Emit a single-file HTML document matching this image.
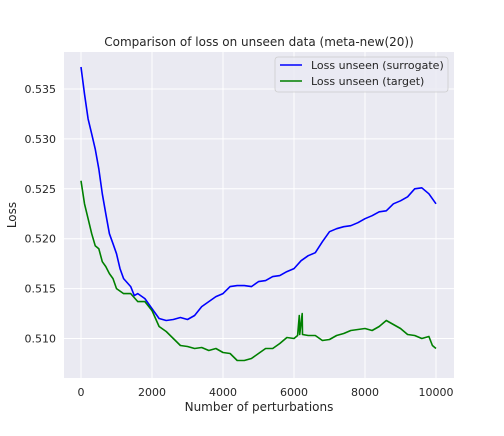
<!DOCTYPE html>
<html><head><meta charset="utf-8"><style>
body{margin:0;background:#fff;font-family:"DejaVu Sans","Liberation Sans",sans-serif;}
svg text{fill:#262626;}
</style></head><body>
<svg id="chart" width="504" height="432" xmlns="http://www.w3.org/2000/svg">
<rect x="64" y="52" width="390" height="326" fill="#eaeaf2"/>
<g id="grid"></g>
<g id="series"></g>
<g id="ticks"></g>
<text x="259" y="46" text-anchor="middle" font-size="12">Comparison of loss on unseen data (meta-new(20))</text>
<text x="259" y="411" text-anchor="middle" font-size="12">Number of perturbations</text>
<text x="16" y="215" text-anchor="middle" font-size="12" transform="rotate(-90 16 215)">Loss</text>
<g>
<rect x="275" y="57" width="173" height="35" rx="3" fill="#eaeaf2" fill-opacity="0.8" stroke="#cccccc" stroke-width="0.8"/>
<g><line x1="280" y1="65" x2="302" y2="65" stroke="#0000ff" stroke-width="1.5"/><text x="311" y="69" font-size="11">Loss unseen (surrogate)</text></g>
<g><line x1="280" y1="81" x2="302" y2="81" stroke="#008000" stroke-width="1.5"/><text x="311" y="85" font-size="11">Loss unseen (target)</text></g>
</g>
</svg>
<script>
const xTicks=[0,2000,4000,6000,8000,10000];
const yTicks=[0.510,0.515,0.520,0.525,0.530,0.535];
const surrogateX=[0,100,200,300,400,500,600,700,800,900,1000,1100,1200,1400,1500,1600,1800,2000,2200,2400,2600,2800,3000,3200,3400,3600,3800,4000,4200,4400,4600,4800,5000,5200,5400,5600,5800,6000,6200,6400,6600,6800,7000,7200,7400,7600,7800,8000,8200,8400,8600,8800,9000,9200,9400,9600,9800,10000];
const surrogateY=[0.5372,0.5345,0.532,0.5305,0.529,0.527,0.5245,0.5225,0.5205,0.5195,0.5185,0.517,0.516,0.5152,0.5143,0.5145,0.514,0.513,0.512,0.5118,0.5119,0.5121,0.5119,0.5123,0.5132,0.5137,0.5142,0.5145,0.5152,0.5153,0.5153,0.5152,0.5157,0.5158,0.5162,0.5163,0.5167,0.517,0.5178,0.5183,0.5186,0.5197,0.5207,0.521,0.5212,0.5213,0.5216,0.522,0.5223,0.5227,0.5228,0.5235,0.5238,0.5242,0.525,0.5251,0.5245,0.5235];
const targetX=[0,100,200,300,400,500,600,700,800,900,1000,1200,1400,1600,1800,2000,2200,2400,2600,2800,3000,3200,3400,3600,3800,4000,4200,4400,4600,4800,5000,5200,5400,5600,5800,6000,6100,6150,6160,6230,6240,6400,6600,6800,7000,7200,7400,7600,7800,8000,8200,8400,8600,8800,9000,9200,9400,9600,9800,9900,10000];
const targetY=[0.5258,0.5235,0.522,0.5205,0.5193,0.519,0.5177,0.5172,0.5165,0.516,0.515,0.5145,0.5145,0.5137,0.5137,0.5128,0.5112,0.5107,0.51,0.5093,0.5092,0.509,0.5091,0.5088,0.509,0.5086,0.5085,0.5078,0.5078,0.508,0.5085,0.509,0.509,0.5095,0.5101,0.51,0.5103,0.5123,0.5104,0.5125,0.5104,0.5103,0.5103,0.5098,0.5099,0.5103,0.5105,0.5108,0.5109,0.511,0.5108,0.5112,0.5118,0.5114,0.511,0.5104,0.5103,0.51,0.5102,0.5093,0.509];
const NS="http://www.w3.org/2000/svg";
function sx(v){return 81+v*(436-81)/10000;}
function sy(v){return 338.5-(v-0.510)*9980;}
const grid=document.getElementById('grid'),ticks=document.getElementById('ticks'),ser=document.getElementById('series');
xTicks.forEach(t=>{
 const l=document.createElementNS(NS,'line');
 l.setAttribute('x1',sx(t));l.setAttribute('x2',sx(t));l.setAttribute('y1',52);l.setAttribute('y2',378);
 l.setAttribute('stroke','#fff');l.setAttribute('stroke-width','1');
 
 
 grid.appendChild(l);
 const tx=document.createElementNS(NS,'text');
 tx.setAttribute('x',sx(t));tx.setAttribute('y',396);tx.setAttribute('text-anchor','middle');tx.setAttribute('font-size','11');
 tx.textContent=t;
 
 
 ticks.appendChild(tx);
});
yTicks.forEach(t=>{
 const l=document.createElementNS(NS,'line');
 l.setAttribute('x1',64);l.setAttribute('x2',454);l.setAttribute('y1',sy(t));l.setAttribute('y2',sy(t));
 l.setAttribute('stroke','#fff');l.setAttribute('stroke-width','1');
 
 
 grid.appendChild(l);
 const tx=document.createElementNS(NS,'text');
 tx.setAttribute('x',56);tx.setAttribute('y',sy(t)+4);tx.setAttribute('text-anchor','end');tx.setAttribute('font-size','11');
 tx.textContent=t.toFixed(3);
 
 
 ticks.appendChild(tx);
});
function line(xs,ys,color,name){
 const p=document.createElementNS(NS,'polyline');
 p.setAttribute('points',xs.map((x,i)=>sx(x).toFixed(1)+','+sy(ys[i]).toFixed(1)).join(' '));
 p.setAttribute('fill','none');p.setAttribute('stroke',color);p.setAttribute('stroke-width','1.6');p.setAttribute('stroke-linejoin','round');
 
 
 ser.appendChild(p);
}
line(surrogateX,surrogateY,'#0000ff','surrogate-loss-line');
line(targetX,targetY,'#008000','target-loss-line');
</script>
</body></html>
